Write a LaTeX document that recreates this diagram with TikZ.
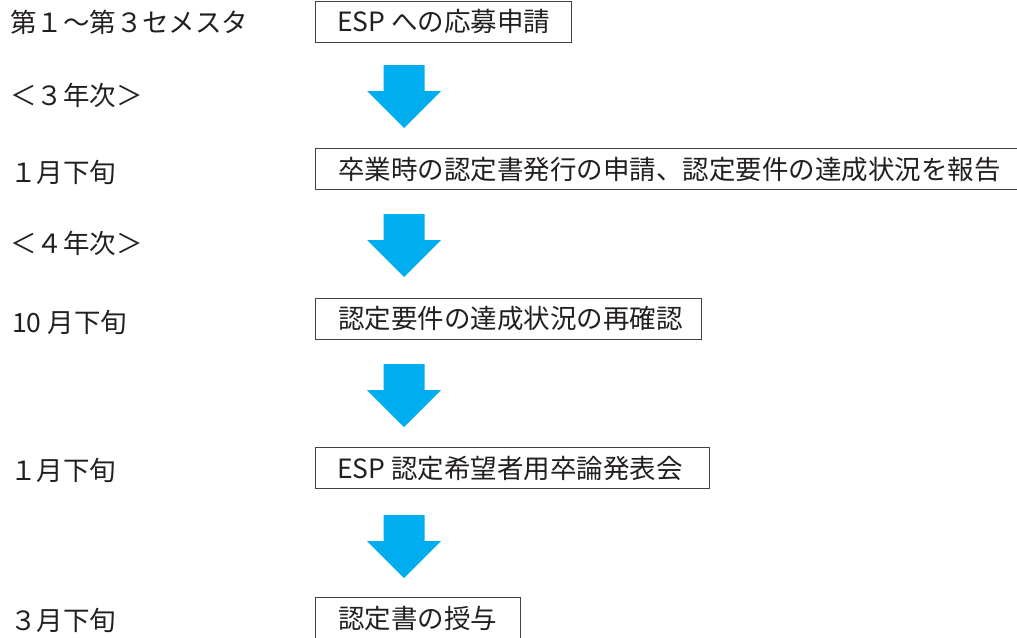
\documentclass[tikz,border=0pt]{standalone}
\usepackage{fontspec}
\setmainfont{Noto Sans CJK JP}
\definecolor{arrowcol}{HTML}{00AEEF}
\definecolor{txt}{HTML}{231F20}
\tikzset{
  stepbox/.style={draw=txt!85, line width=1.1pt, rectangle, anchor=north west,
    inner xsep=0pt, inner ysep=0pt, minimum height=41pt, text=txt},
  lbl/.style={anchor=west, inner sep=0pt, text=txt},
  blockarrow/.style={fill=arrowcol, draw=none}
}
\newcommand{\downarrowblock}[2]{% #1 = center x, #2 = top y
  \fill[blockarrow] (#1-20.5,#2) -- (#1+20.5,#2) -- (#1+20.5,#2+26) -- (#1+37,#2+26)
    -- (#1,#2+63) -- (#1-37,#2+26) -- (#1-20.5,#2+26) -- cycle;}
\begin{document}
\begin{tikzpicture}[x=1pt,y=-1pt,font=\fontsize{26.5pt}{30pt}\selectfont]
\useasboundingbox (0,0) rectangle (1017,637);
% boxes
\node[stepbox, minimum width=256pt] (b1) at (315,1) {};
\node[lbl] (t1) at (337,21) {ESP への応募申請};
\node[stepbox, minimum width=702pt] (b2) at (315,148) {};
\node[lbl] (t2) at (338,169.5) {卒業時の認定書発行の申請、認定要件の達成状況を報告};
\node[stepbox, minimum width=386pt] (b3) at (315,298) {};
\node[lbl] (t3) at (338,319) {認定要件の達成状況の再確認};
\node[stepbox, minimum width=394pt] (b4) at (315,447) {};
\node[lbl] (t4) at (337,468) {ESP 認定希望者用卒論発表会};
\node[stepbox, minimum width=205pt] (b5) at (315,597) {};
\node[lbl] (t5) at (338,618) {認定書の授与};
% block arrows
\downarrowblock{404}{65}
\downarrowblock{404}{214}
\downarrowblock{404}{364}
\downarrowblock{404}{515}
% left labels
\node[lbl] (l1) at (10,22) {第１～第３セメスタ};
\node[lbl] (l2) at (10,95) {＜３年次＞};
\node[lbl] (l3) at (10,172) {１月下旬};
\node[lbl] (l4) at (10,243) {＜４年次＞};
\node[lbl] (l5) at (12,322) {10 月下旬};
\node[lbl] (l6) at (10,470) {１月下旬};
\node[lbl] (l7) at (10,620) {３月下旬};
\end{tikzpicture}
\end{document}
